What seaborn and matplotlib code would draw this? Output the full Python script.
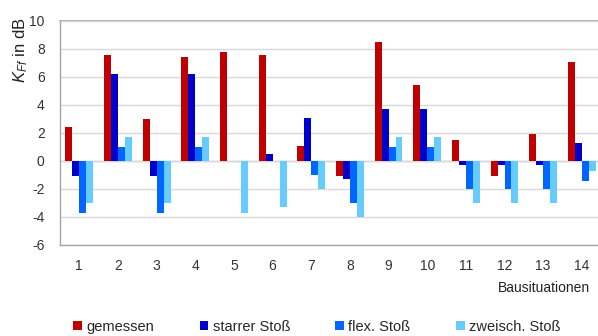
import matplotlib
matplotlib.use("Agg")
from matplotlib import pyplot as plt
import pandas as pd
import seaborn as sns

situations = [str(i) for i in range(1, 15)]
gemessen = [2.4, 7.6, 3.0, 7.4, 7.8, 7.6, 1.1, -1.1, 8.5, 5.4, 1.5, -1.1, 1.9, 7.1]
starrer = [-1.1, 6.2, -1.1, 6.2, 0.0, 0.5, 3.1, -1.3, 3.7, 3.7, -0.3, -0.3, -0.3, 1.3]
flex = [-3.7, 1.0, -3.7, 1.0, 0.0, 0.0, -1.0, -3.0, 1.0, 1.0, -2.0, -2.0, -2.0, -1.4]
zweisch = [-3.0, 1.7, -3.0, 1.7, -3.7, -3.3, -2.0, -4.0, 1.7, 1.7, -3.0, -3.0, -3.0, -0.7]
series_names = ["gemessen", "starrer Stoß", "flex. Stoß", "zweisch. Stoß"]
colors = ["#C00000", "#0000CC", "#0066FF", "#66CCFF"]

rows = []
for name, vals in zip(series_names, [gemessen, starrer, flex, zweisch]):
    for s, v in zip(situations, vals):
        rows.append({"Bausituation": s, "Serie": name, "Wert": v})
df = pd.DataFrame(rows)

sns.set_style("white")
plt.rcParams['font.family'] = ['Liberation Sans', 'DejaVu Sans']
plt.rcParams['mathtext.fontset'] = 'custom'
plt.rcParams['mathtext.it'] = 'Liberation Sans:italic'
plt.rcParams['mathtext.rm'] = 'Liberation Sans'
plt.rcParams['axes.unicode_minus'] = False

fig = plt.figure(figsize=(5.98, 3.36), dpi=100)
ax = fig.add_axes([0.1003, 0.271, 0.905, 0.6665])

sns.barplot(df, x="Bausituation", y="Wert", hue="Serie", palette=colors,
            width=0.72, saturation=1, edgecolor="none", linewidth=0, ax=ax,
            legend=True)

ax.set_ylim(-6, 10)
ax.set_yticks(range(-6, 11, 2))
ax.set_xlim(-0.5, 13.5)
ax.yaxis.grid(True, color="#D9D9D9", linewidth=1)
ax.set_axisbelow(True)
ax.axhline(0, color="#BFBFBF", linewidth=1, zorder=0.5)
ax.axhline(10, color="#A6A6A6", linewidth=1.2, zorder=0.5, clip_on=False)
for side in ["top", "right"]:
    ax.spines[side].set_visible(False)
for side in ["left", "bottom"]:
    ax.spines[side].set_color("#A6A6A6")
    ax.spines[side].set_linewidth(1)
ax.tick_params(axis="both", length=0, labelsize=10, colors="#333333")
ax.tick_params(axis="y", pad=11)
ax.tick_params(axis="x", pad=10)
ax.set_xlabel("")
ax.set_ylabel("")

fig.text(0.035, 0.85, r"$K_{Ff}$ in dB", rotation=90, ha="center", va="center",
         fontsize=12, color="#222222")
fig.text(0.987, 0.142, "Bausituationen", ha="right", va="center",
         fontsize=10, color="#222222")

handles, labels = ax.get_legend_handles_labels()
ax.get_legend().remove()
fig.legend(handles, labels, loc="center", bbox_to_anchor=(0.53, 0.027), ncol=4,
           frameon=False, fontsize=10.5, handlelength=0.6, handleheight=0.6,
           handletextpad=0.3, columnspacing=3.1)

fig.savefig("out.png", dpi=100)
